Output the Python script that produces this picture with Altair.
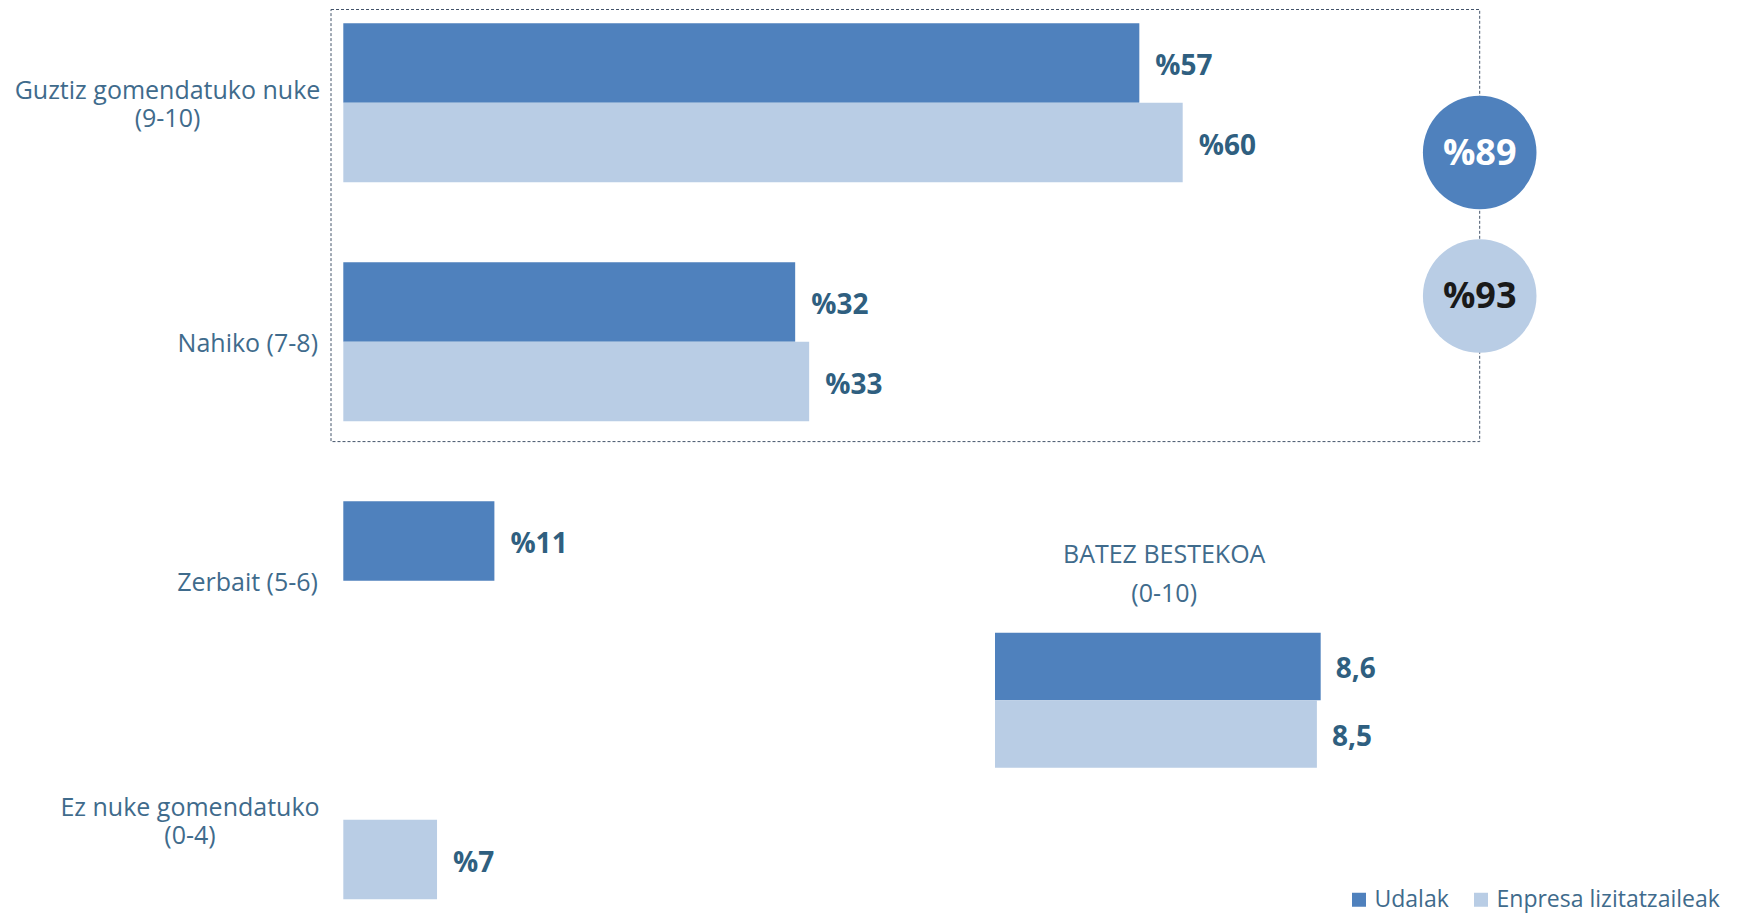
import altair as alt
import pandas as pd

# ---------------- data ----------------
categories = ["Guztiz gomendatuko nuke\n(9-10)", "Nahiko (7-8)", "Zerbait (5-6)", "Ez nuke gomendatuko\n(0-4)"]
series = ["Udalak", "Enpresa lizitatzaileak"]
udalak_values = [56.9, 32.3, 10.8, None]
enpresa_values = [60.0, 33.3, None, 6.7]
udalak_labels = ["%57", "%32", "%11", None]
enpresa_labels = ["%60", "%33", None, "%7"]

total_labels = ["%89", "%93"]

avg_values = [8.6, 8.5]
avg_labels = ["8,6", "8,5"]
avg_title = "BATEZ BESTEKOA\n(0-10)"

# ---------------- styling / layout ----------------
DARK = "#4F81BD"
LIGHT = "#B9CDE5"
CAT_COLOR = "#3F6B8C"
VAL_COLOR = "#2F5F80"
FONT = "Open Sans"

rows = []
for i, c in enumerate(categories):
    for s, vals, labs in ((series[0], udalak_values, udalak_labels),
                          (series[1], enpresa_values, enpresa_labels)):
        if vals[i] is not None:
            rows.append({"category": c, "series": s, "value": vals[i], "label": labs[i]})
df = pd.DataFrame(rows)

MAIN_X = alt.Scale(domain=[0, 100], range=[335.3, 1734.3])
MAIN_Y = alt.Scale(type="band", domain=categories, range=[15.3, 891.3], paddingInner=0.3347, paddingOuter=0)
OFFSET = alt.Scale(type="band", domain=series, paddingInner=0, paddingOuter=0)
COLOR = alt.Scale(domain=series, range=[DARK, LIGHT])

legend = alt.Legend(orient="none", legendX=1339.5, legendY=880, direction="horizontal",
                    title=None, symbolType="square", symbolSize=196, labelFontSize=23,
                    labelFont=FONT, labelColor=CAT_COLOR, labelOffset=4, columnPadding=20,
                    labelLimit=400, padding=0, symbolStrokeWidth=0, symbolOpacity=1)

# dotted frame
box = alt.Chart(pd.DataFrame({"k": [0]})).mark_rect(
    filled=False, stroke="#44546A", strokeWidth=1, strokeDash=[3, 2]
).encode(x=alt.value(323), x2=alt.value(1471.7), y=alt.value(1.5), y2=alt.value(433.6))

bars = alt.Chart(df).mark_bar().encode(
    x=alt.X("value:Q", scale=MAIN_X, axis=None),
    y=alt.Y("category:N", scale=MAIN_Y, axis=None),
    yOffset=alt.YOffset("series:N", scale=OFFSET),
    color=alt.Color("series:N", scale=COLOR, legend=legend),
)

bar_text = alt.Chart(df).mark_text(
    align="left", baseline="middle", dx=16, dy=4, fontSize=28, fontWeight="bold", font=FONT, color=VAL_COLOR
).encode(
    x=alt.X("value:Q", scale=MAIN_X, axis=None),
    y=alt.Y("category:N", scale=MAIN_Y, axis=None),
    yOffset=alt.YOffset("series:N", scale=OFFSET),
    text="label:N",
)

label_layout = {
    categories[0]: (159.5, "center"),
    categories[1]: (310, "right"),
    categories[2]: (310, "right"),
    categories[3]: (182, "center"),
}
CAT_LH = 28
cat_layers = []
for c in categories:
    xpos, al = label_layout[c]
    n_lines = c.count("\n") + 1
    cat_layers.append(
        alt.Chart(pd.DataFrame({"category": [c]})).mark_text(
            align=al, baseline="middle", lineBreak="\n", lineHeight=CAT_LH, fontSize=25,
            font=FONT, color=CAT_COLOR, dy=2 - (n_lines - 1) * CAT_LH / 2
        ).encode(
            x=alt.value(xpos),
            y=alt.Y("category:N", scale=MAIN_Y, axis=None),
            text="category:N",
        )
    )

# average block
avg_df = pd.DataFrame({"series": series, "value": avg_values, "label": avg_labels})
AVG_X = alt.Scale(domain=[0, 10], range=[987, 1365.7])
AVG_Y = alt.Scale(type="band", domain=series, range=[624.7, 759.7], paddingInner=0, paddingOuter=0)

avg_bars = alt.Chart(avg_df).mark_bar().encode(
    x=alt.X("value:Q", scale=AVG_X, axis=None),
    y=alt.Y("series:N", scale=AVG_Y, axis=None),
    color=alt.Color("series:N", scale=COLOR, legend=None),
)
avg_text = alt.Chart(avg_df).mark_text(
    align="left", baseline="middle", dx=15, dy=4, fontSize=28, fontWeight="bold", font=FONT, color=VAL_COLOR
).encode(
    x=alt.X("value:Q", scale=AVG_X, axis=None),
    y=alt.Y("series:N", scale=AVG_Y, axis=None),
    text="label:N",
)
avg_head = alt.Chart(pd.DataFrame({"t": [avg_title]})).mark_text(
    align="center", baseline="middle", lineBreak="\n", lineHeight=39, fontSize=25,
    font=FONT, color=CAT_COLOR
).encode(x=alt.value(1156.2), y=alt.value(546.5), text="t:N")

# total circles
circ_df = pd.DataFrame({"series": series, "label": total_labels})
CIRC_Y = alt.Scale(type="band", domain=series, range=[72.75, 359.75], paddingInner=0, paddingOuter=0)
circles = alt.Chart(circ_df).mark_point(filled=True, shape="circle", size=12900, opacity=1).encode(
    x=alt.value(1471.7),
    y=alt.Y("series:N", scale=CIRC_Y, axis=None),
    color=alt.Color("series:N", scale=COLOR, legend=None),
)
circ_text = alt.Chart(circ_df).mark_text(
    align="center", baseline="middle", fontSize=36, fontWeight="bold", font=FONT, dy=1
).encode(
    x=alt.value(1471.7),
    y=alt.Y("series:N", scale=CIRC_Y, axis=None),
    color=alt.Color("series:N", scale=alt.Scale(domain=series, range=["#FFFFFF", "#1A1A1A"]), legend=None),
    text="label:N",
)

chart = alt.layer(
    box, bars, bar_text, *cat_layers, avg_bars, avg_text, avg_head, circles, circ_text
).resolve_scale(
    x="independent", y="independent", color="independent", yOffset="independent"
).properties(
    width=1723, height=907, padding=0, autosize=alt.AutoSizeParams(type="none"),
    background="white",
).configure_view(strokeWidth=0)

chart.save("out.html", embed_options={"renderer": "svg", "actions": False})
